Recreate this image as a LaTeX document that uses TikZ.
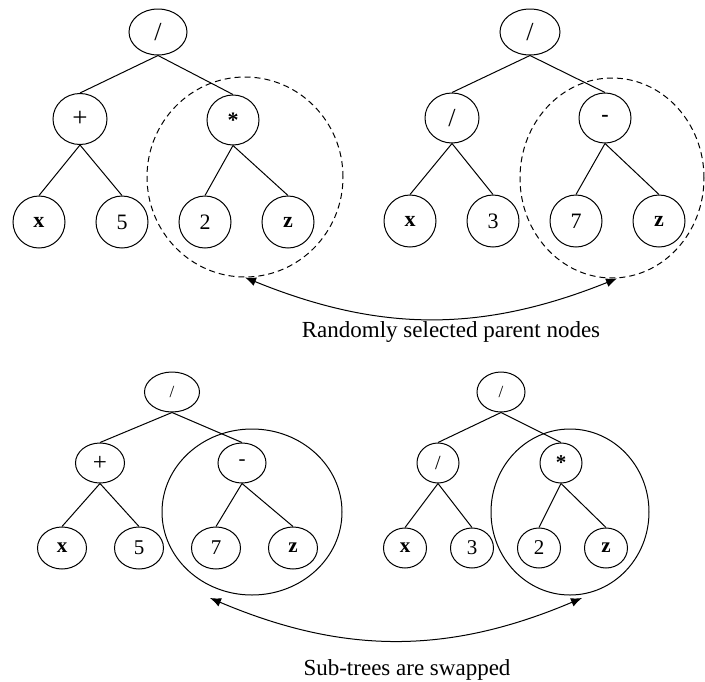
\documentclass[tikz,border=0pt]{standalone}
\usepackage{fontspec}
\setmainfont{Liberation Serif}
\usetikzlibrary{arrows.meta,positioning,shapes.geometric}

\begin{document}
\begin{tikzpicture}
[x=1pt, y=-1pt, font=\fontsize{22}{22}\selectfont,
% STYLES
every node/.style={inner sep=0pt},
% The op style is used for the function nodes of a tree
op/.style={ellipse, draw, line width=1pt, minimum width=54pt, minimum height=50pt},
% The leaf style is used for the terminals (variables and constants)
leaf/.style={ellipse, draw, line width=1pt, minimum width=52pt, minimum height=52pt},
% smaller nodes for the offspring trees
sop/.style={op, minimum width=48pt, minimum height=40pt, font=\fontsize{21}{21}\selectfont},
sleaf/.style={leaf, minimum width=49pt, minimum height=42pt, font=\fontsize{21}{21}\selectfont},
% The pick style marks the randomly chosen sub-trees
pick/.style={ellipse, draw, dashed, dash pattern=on 6pt off 4pt, line width=1pt},
% The swap style marks the exchanged sub-trees
swap/.style={ellipse, draw, line width=1pt},
caption/.style={anchor=base, font=\fontsize{23}{23}\selectfont},
link/.style={line width=1pt},
move/.style={line width=1pt, {Latex[length=11pt,width=9pt]}-{Latex[length=11pt,width=9pt]}}]

\useasboundingbox (0,0) rectangle (705,681);

% Parent 1
\node [op, minimum width=58pt, minimum height=46pt, font=\fontsize{26}{26}\selectfont] (tlroot) at (158,32) {/};
\node [op, minimum height=51pt, font=\fontsize{27}{27}\selectfont] (tlplus) at (80,119) {+};
\node [op, minimum width=52pt] (tlmul) at (233,120) {\textbf{*}};
\node [leaf] (tlx) at (39,222) {\textbf{x}};
\node [leaf, right=30pt of tlx] (tl5) {5};
\node [leaf, right=30pt of tl5] (tl2) {2};
\node [leaf, right=30pt of tl2] (tlz) {\textbf{z}};

% Parent 2
\node [op, minimum width=60pt, minimum height=46pt, font=\fontsize{26}{26}\selectfont] (trroot) at (530,32) {/};
\node [op, font=\fontsize{26}{26}\selectfont] (trdiv) at (452,118) {/};
\node [op, minimum width=52pt] (trminus) at (605,118) {\textbf{-}};
\node [leaf] (trx) at (410,221) {\textbf{x}};
\node [leaf, right=30pt of trx] (tr3) {3};
\node [leaf, right=30pt of tr3] (tr7) {7};
\node [leaf, right=30pt of tr7] (trz) {\textbf{z}};

% Offspring 1
\node [sop, minimum width=55pt, font=\fontsize{17}{17}\selectfont] (blroot) at (172,392) {/};
\node [sop, minimum width=49pt, font=\fontsize{25}{25}\selectfont] (blplus) at (100,463) {+};
\node [sop] (blminus) at (242,463) {-};
\node [sleaf] (blx) at (62,548) {\textbf{x}};
\node [sleaf, right=27pt of blx] (bl5) {5};
\node [sleaf, right=27pt of bl5] (bl7) {7};
\node [sleaf, right=27pt of bl7] (blz) {\textbf{z}};

% Offspring 2
\node [sop, font=\fontsize{17}{17}\selectfont] (brroot) at (501,392) {/};
\node [sop, minimum width=42pt, font=\fontsize{20}{20}\selectfont] (brdiv) at (438,463) {/};
\node [sop, minimum width=42pt] (brmul) at (561,463) {\textbf{*}};
\node [sleaf, minimum width=43pt, minimum height=40pt] (brx) at (405,548) {\textbf{x}};
\node [sleaf, minimum width=43pt, minimum height=40pt, right=23pt of brx] (br3) {3};
\node [sleaf, minimum width=43pt, minimum height=40pt, right=23pt of br3] (br2) {2};
\node [sleaf, minimum width=43pt, minimum height=40pt, right=23pt of br2] (brz) {\textbf{z}};

% Draw the tree edges
\foreach \p/\c in {tlroot/tlplus, tlroot/tlmul, tlplus/tlx, tlplus/tl5, tlmul/tl2, tlmul/tlz,
                   trroot/trdiv, trroot/trminus, trdiv/trx, trdiv/tr3, trminus/tr7, trminus/trz,
                   blroot/blplus, blroot/blminus, blplus/blx, blplus/bl5, blminus/bl7, blminus/blz,
                   brroot/brdiv, brroot/brmul, brdiv/brx, brdiv/br3, brmul/br2, brmul/brz}
  \draw [link] (\p.south) -- (\c.north);

% Selected and swapped sub-trees
\node [pick, minimum width=196pt, minimum height=200pt] (tlring) at (245,177) {};
\node [pick, minimum width=184pt, minimum height=200pt] (trring) at (612,178) {};
\node [swap, minimum width=180pt, minimum height=166pt] (blring) at (252,512) {};
\node [swap, minimum width=158pt, minimum height=166pt] (brring) at (570,512) {};

\coordinate (swapL) at (210,598);
\coordinate (swapR) at (582,598);

% Arrows and captions
\draw [move] (tlring.south) to [bend right=22] ([xshift=5pt]trring.south);
\node [caption] (pickcap) at (451,337) {Randomly selected parent nodes};

\draw [move] (swapL) to [bend right=23] (swapR);
\node [caption] (swapcap) at (407,675) {Sub-trees are swapped};

\end{tikzpicture}
\end{document}
